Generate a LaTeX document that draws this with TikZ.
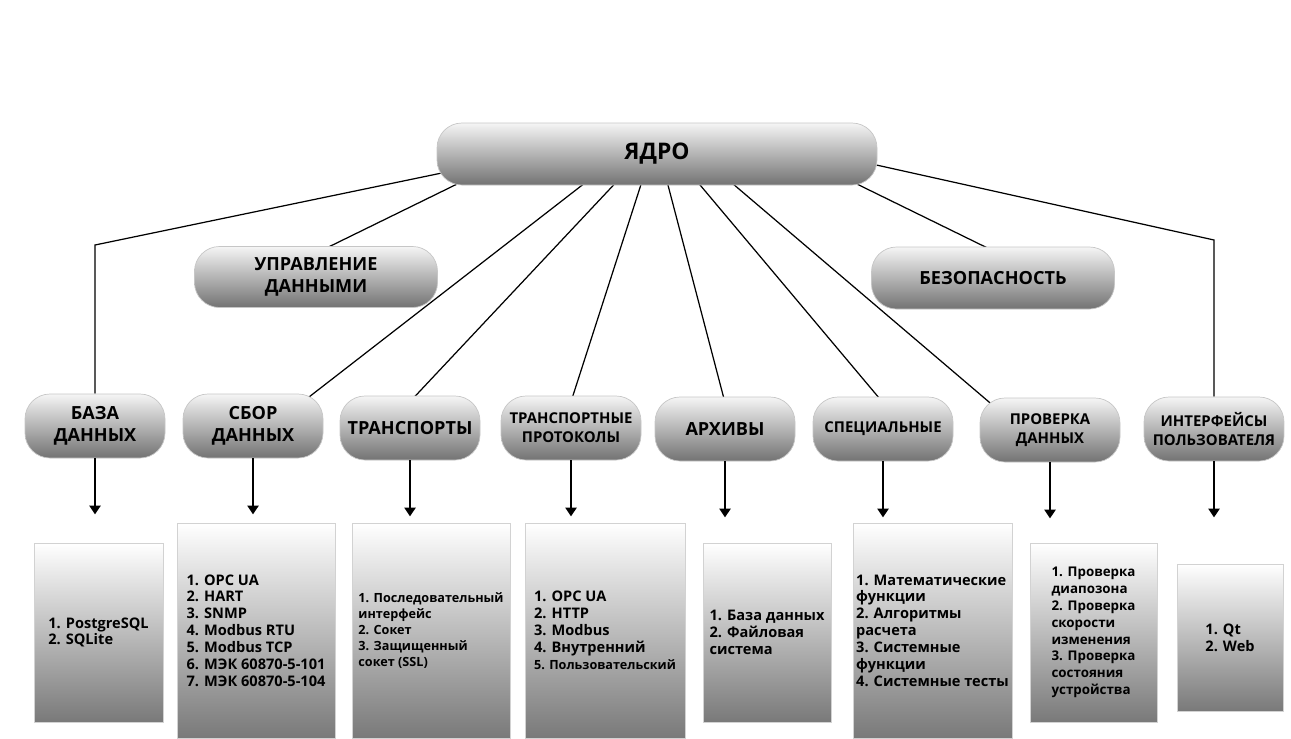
\documentclass[tikz,border=0pt]{standalone}
\usepackage{fontspec}
\setmainfont{Open Sans}
\usetikzlibrary{arrows.meta,backgrounds,calc}

\newcommand{\pxu}{0.02cm}

\tikzset{
    pill/.style={draw=gray!45, line width=0.4pt, rounded corners=0.5cm,
        top color=gray!8, bottom color=gray!90!black, align=center,
        inner sep=0pt, font=\bfseries\fontsize{10.3}{12.3}\selectfont},
    rowpill/.style={pill, minimum width=140*\pxu, minimum height=64*\pxu},
    smalltext/.style={font=\bfseries\fontsize{8.5}{10.8}\selectfont},
    listbox/.style={draw=gray!35, line width=0.4pt, top color=white,
        bottom color=gray!95!black, align=left, inner sep=0pt,
        font=\bfseries\fontsize{8.3}{9.6}\selectfont},
    link/.style={line width=0.7pt},
    arr/.style={line width=0.7pt, -{Triangle[width=6.5pt,length=5pt]}}
}

\begin{document}
\begin{tikzpicture}[x=0.02cm,y=-0.02cm]
    \useasboundingbox (0,0) rectangle (1291,738);

    % Core
    \node[pill, minimum width=440*\pxu, minimum height=62*\pxu,
        font=\bfseries\fontsize{13}{15}\selectfont] (yadro) at (657,154) {ЯДРО};

    % Middle level
    \node[pill, minimum width=243*\pxu, minimum height=61*\pxu] (upravl) at (316,277) {УПРАВЛЕНИЕ\\ДАННЫМИ};
    \node[pill, minimum width=243*\pxu, minimum height=62*\pxu] (bezop) at (993,278) {БЕЗОПАСНОСТЬ};

    % Modules
    \node[rowpill] (baza) at (95,426) {БАЗА\\ДАННЫХ};
    \node[rowpill] (sbor) at (253,426) {СБОР\\ДАННЫХ};
    \node[rowpill] (transp) at (410,428) {ТРАНСПОРТЫ};
    \node[rowpill, smalltext] (tprot) at (571,428) {ТРАНСПОРТНЫЕ\\ПРОТОКОЛЫ};
    \node[rowpill] (arch) at (725,429) {АРХИВЫ};
    \node[rowpill, smalltext] (spec) at (883,429) {СПЕЦИАЛЬНЫЕ};
    \node[rowpill, smalltext] (prov) at (1050,430) {ПРОВЕРКА\\ДАННЫХ};
    \node[rowpill, smalltext] (intf) at (1214,429) {ИНТЕРФЕЙСЫ\\ПОЛЬЗОВАТЕЛЯ};

    % Knees of the outer links
    \coordinate (bazaknee) at (95,245);
    \coordinate (intfknee) at (1214,240);

    % Links from the core
    \begin{scope}[on background layer]
        \draw[link] ($(yadro.west)+(10,18)$) -- (bazaknee) -- (baza.north);
        \draw[link] ($(yadro.south west)+(30,-6)$) -- ($(upravl.north)+(2,6)$);
        \draw[link] ($(yadro.south)+(-70,-4)$) -- ($(sbor.north)+(50,8)$);
        \draw[link] ($(yadro.south)+(-40,-4)$) -- ($(transp.north)+(0,6)$);
        \draw[link] ($(yadro.south)+(-15,-4)$) -- ($(tprot.north)+(0,6)$);
        \draw[link] ($(yadro.south)+(10,-4)$) -- ($(arch.north)+(0,6)$);
        \draw[link] ($(yadro.south)+(40,-4)$) -- ($(spec.north)+(0,6)$);
        \draw[link] ($(yadro.south)+(73,-4)$) -- ($(prov.north)+(-52,12)$);
        \draw[link] ($(yadro.south east)+(-30,-6)$) -- ($(bezop.north)+(4,6)$);
        \draw[link] ($(yadro.east)+(-10,9)$) -- (intfknee) -- (intf.north);
    \end{scope}

    % Arrows down
    \foreach \n in {baza,sbor,transp,tprot,arch,spec,prov,intf} {
        \draw[arr] (\n.south) -- ++(0,56);
    }

    % Lists
    \node[listbox, minimum width=129*\pxu, minimum height=179*\pxu] (bazalist) at (98.5,632.5)
        {1. PostgreSQL\\2. SQLite};
    \node[listbox, minimum width=158*\pxu, minimum height=215*\pxu] (sborlist) at (256,630.5)
        {1. OPC UA\\2. HART\\3. SNMP\\4. Modbus RTU\\5. Modbus TCP\\6. МЭК 60870-5-101\\7. МЭК 60870-5-104};
    \node[listbox, minimum width=158*\pxu, minimum height=215*\pxu,
        font=\bfseries\fontsize{7.2}{9.1}\selectfont] (transplist) at (431,630.5)
        {1. Последовательный\\интерфейс\\2. Сокет\\3. Защищенный\\сокет (SSL)};
    \node[listbox, minimum width=160*\pxu, minimum height=215*\pxu] (tprotlist) at (605,630.5)
        {1. OPC UA\\2. HTTP\\3. Modbus\\4. Внутренний\\{\fontsize{7.2}{9.6}\selectfont 5. Пользовательский}};
    \node[listbox, minimum width=128*\pxu, minimum height=179*\pxu] (archlist) at (767,632.5)
        {1. База данных\\2. Файловая\\система};
    \node[listbox, minimum width=159*\pxu, minimum height=215*\pxu] (speclist) at (932.5,630.5)
        {1. Математические\\функции\\2. Алгоритмы\\расчета\\3. Системные\\функции\\4. Системные тесты};
    \node[listbox, minimum width=127*\pxu, minimum height=179*\pxu,
        font=\bfseries\fontsize{7.6}{9.6}\selectfont] (provlist) at (1093.5,632.5)
        {1. Проверка\\диапозона\\2. Проверка\\скорости\\изменения\\3. Проверка\\состояния\\устройства};
    \node[listbox, minimum width=106*\pxu, minimum height=147*\pxu] (intflist) at (1230,637.5)
        {1. Qt\\2. Web};
\end{tikzpicture}
\end{document}
